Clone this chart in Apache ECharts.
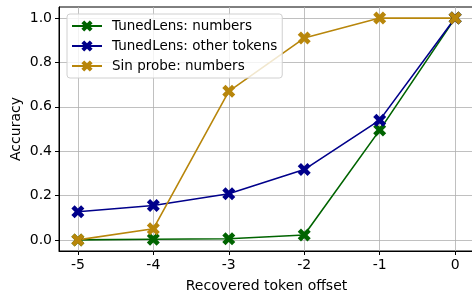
<!DOCTYPE html>
<html>
<head>
<meta charset="utf-8">
<script src="https://cdn.jsdelivr.net/npm/echarts@6/dist/echarts.min.js"></script>
<style>
  html, body { margin: 0; padding: 0; background: #fff; }
  #chart { width: 472px; height: 295px; }
</style>
</head>
<body>
<div id="chart"></div>
<script>
const offsets = [-5, -4, -3, -2, -1, 0];
const tunedNumbers = [0.0, 0.003, 0.005, 0.022, 0.495, 1.0];
const tunedOther = [0.127, 0.155, 0.208, 0.317, 0.54, 1.0];
const sinNumbers = [0.0, 0.05, 0.67, 0.91, 1.0, 1.0];
const xTicks = [-5, -4, -3, -2, -1, 0];
const yTicks = [0, 0.2, 0.4, 0.6, 0.8, 1.0];

const FONT = "DejaVu Sans";
// filled "X" marker like matplotlib's
const X_MARK = "path://M0,2.5 L2.5,0 L5,2.5 L7.5,0 L10,2.5 L7.5,5 L10,7.5 L7.5,10 L5,7.5 L2.5,10 L0,7.5 L2.5,5 Z";

function pairs(ys) {
  return offsets.map((x, i) => [x, ys[i]]);
}

function mkSeries(name, ys, color) {
  return {
    name,
    type: "line",
    data: pairs(ys),
    symbol: X_MARK,
    symbolSize: 13,
    lineStyle: { color, width: 1.6 },
    itemStyle: { color, borderColor: color, borderWidth: 0 },
    emphasis: { disabled: true },
    animation: false,
  };
}

const chart = echarts.init(document.getElementById("chart"));
chart.setOption({
  backgroundColor: "#fff",
  textStyle: { fontFamily: FONT },
  grid: {
    left: 59, top: 7, width: 415, height: 244,
    outerBoundsMode: "none",
    containLabel: false,
    show: true, borderColor: "#000", borderWidth: 1,
    backgroundColor: "transparent",
  },
  legend: {
    orient: "vertical",
    left: 67, top: 14,
    padding: [5, 5, 5, 4],
    itemGap: 6,
    itemWidth: 30,
    itemHeight: 14,
    backgroundColor: "rgba(255,255,255,0.8)",
    borderColor: "#d0d0d0",
    borderWidth: 1,
    borderRadius: 3,
    textStyle: { fontFamily: FONT, fontSize: 13.5, color: "#000", padding: [0, 0, 0, 5] },
    data: ["TunedLens: numbers", "TunedLens: other tokens", "Sin probe: numbers"],
  },
  xAxis: {
    type: "value",
    min: -5.25, max: 0.25,
    name: "Recovered token offset",
    nameLocation: "middle",
    nameGap: 28,
    nameMoveOverlap: false,
    nameTextStyle: { fontFamily: FONT, fontSize: 14, color: "#000" },
    axisLine: { onZero: false, lineStyle: { color: "#000", width: 1 } },
    axisTick: { show: true, length: 4, customValues: xTicks, lineStyle: { color: "#000" } },
    axisLabel: { customValues: xTicks, fontSize: 14, color: "#000", fontFamily: FONT, margin: 7 },
    splitLine: { show: true, lineStyle: { color: "#b0b0b0", width: 0.8 } },
  },
  yAxis: {
    type: "value",
    min: -0.05, max: 1.05,
    name: "Accuracy",
    nameLocation: "middle",
    nameGap: 36,
    nameMoveOverlap: false,
    nameTextStyle: { fontFamily: FONT, fontSize: 14, color: "#000" },
    axisLine: { show: true, onZero: false, lineStyle: { color: "#000", width: 1 } },
    axisTick: { show: true, length: 4, customValues: yTicks, lineStyle: { color: "#000" } },
    axisLabel: {
      customValues: yTicks, fontSize: 14, color: "#000", fontFamily: FONT, margin: 7,
      formatter: (v) => v.toFixed(1),
    },
    splitLine: { show: true, lineStyle: { color: "#b0b0b0", width: 0.8 } },
  },
  series: [
    mkSeries("TunedLens: numbers", tunedNumbers, "#006400"),
    mkSeries("TunedLens: other tokens", tunedOther, "#00008b"),
    mkSeries("Sin probe: numbers", sinNumbers, "#b8860b"),
  ],
});
</script>
</body>
</html>
